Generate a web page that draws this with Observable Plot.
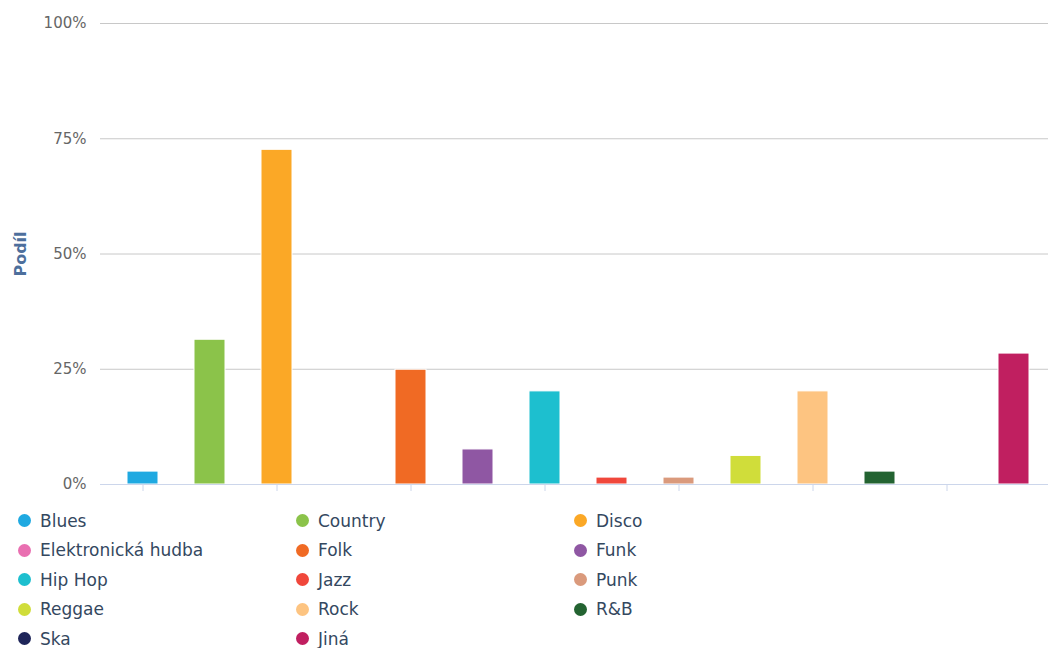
<!DOCTYPE html>
<html>
<head>
<meta charset="utf-8">
<script src="https://cdn.jsdelivr.net/npm/d3@7"></script>
<script src="https://cdn.jsdelivr.net/npm/@observablehq/plot@0.6"></script>
<style>
  html, body { margin: 0; padding: 0; background: #fff; }
  body { width: 1048px; height: 648px; overflow: hidden; font-family: "DejaVu Sans", sans-serif; }
  #legend { display: grid; grid-template-columns: 278px 278px 278px; padding: 6px 0 0 18px; }
  .item { display: flex; align-items: center; height: 29.5px; font-size: 17px; color: #34485f; white-space: nowrap; }
  .dot { width: 13px; height: 13px; border-radius: 50%; margin-right: 9px; flex: none; }
</style>
</head>
<body>
<div id="chart"></div>
<div id="legend"></div>
<script>
const genres = ["Blues", "Country", "Disco", "Elektronická hudba", "Folk", "Funk", "Hip Hop", "Jazz", "Punk", "Reggae", "Rock", "R&B", "Ska", "Jiná"];
const shares = [2.8, 31.4, 72.6, 0, 24.9, 7.6, 20.2, 1.5, 1.5, 6.2, 20.2, 2.8, 0, 28.4];
const colors = ["#1fa9e1", "#8bc34a", "#fba826", "#e96fb1", "#f06a24", "#8f57a3", "#1dbfcf", "#f0473b", "#da9a7c", "#d0dd3a", "#fdc481", "#236331", "#1e2559", "#c01f60"];
const yTicks = [0, 25, 50, 75, 100];
const xTickCats = ["Blues", "Disco", "Folk", "Hip Hop", "Punk", "Rock", "Ska"];

const data = genres.map((g, i) => ({genre: g, share: shares[i], color: colors[i]}));

const chart = Plot.plot({
  width: 1048,
  height: 500,
  marginLeft: 100,
  marginRight: 0,
  marginTop: 23,
  marginBottom: 16,
  style: {fontFamily: "DejaVu Sans, sans-serif", background: "#fff"},
  x: {domain: genres, range: [108.5, 1047.3], paddingInner: 0.54, paddingOuter: 0.27},
  y: {domain: [0, 100]},
  marks: [
    Plot.ruleY(yTicks.filter(d => d > 0), {stroke: "#c8c8c8", strokeWidth: 1}),
    Plot.barY(data, {x: "genre", y: "share", fill: "color", stroke: "#ffffff", strokeWidth: 1}),
    Plot.ruleY([0], {stroke: "#ccd6eb", strokeWidth: 1}),
    Plot.axisX({ticks: xTickCats, tickFormat: () => "", tickSize: 7, stroke: "#ccd6eb", label: null}),
    Plot.axisY({ticks: yTicks, tickFormat: d => d + "%", tickSize: 0, tickPadding: 14, fontSize: 15, fill: "#666666",
      label: "Podíl", labelAnchor: "center", labelArrow: "none", labelOffset: 86}),
  ]
});
// style y label
chart.querySelectorAll("g[aria-label='y-axis label'] text").forEach(t => {
  t.setAttribute("fill", "#4d6f9c");
  t.setAttribute("font-weight", "bold");
  t.setAttribute("font-size", "16");
});
document.getElementById("chart").appendChild(chart);

const legend = document.getElementById("legend");
genres.forEach((g, i) => {
  const item = document.createElement("div");
  item.className = "item";
  const dot = document.createElement("span");
  dot.className = "dot";
  dot.style.background = colors[i];
  item.appendChild(dot);
  item.appendChild(document.createTextNode(g));
  legend.appendChild(item);
});
</script>
</body>
</html>
